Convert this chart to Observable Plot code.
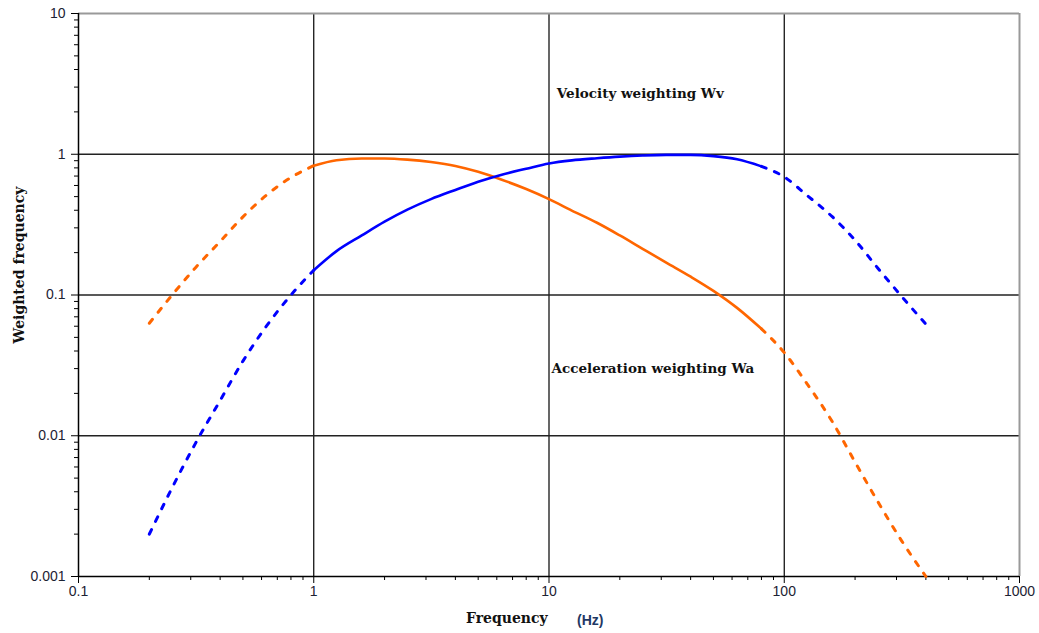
<!DOCTYPE html>
<html>
<head>
<meta charset="utf-8">
<script src="https://cdn.jsdelivr.net/npm/d3@7"></script>
<script src="https://cdn.jsdelivr.net/npm/@observablehq/plot@0.6"></script>
<style>
  html, body { margin: 0; padding: 0; background: #fff; }
  #chart { position: relative; width: 1039px; height: 633px; }
  .ytitle { position: absolute; left: 19px; top: 265px; transform: translate(-50%, -50%) rotate(-90deg);
    font: bold 14px "DejaVu Serif", serif; color: #111; white-space: nowrap; }
  .xtitle { position: absolute; left: 466px; top: 610px; font: bold 14px "DejaVu Serif", serif; color: #111; white-space: nowrap; }
  .xunit { position: absolute; left: 577px; top: 612px; font: bold 14px "Liberation Sans", Arial, sans-serif; color: #1F3864; white-space: nowrap; }
</style>
</head>
<body>
<div id="chart"></div>
<script>
// Frequencies (Hz), 1/3-octave bands
const freq = [0.2, 0.25, 0.315, 0.4, 0.5, 0.63, 0.8, 1, 1.25, 1.6, 2, 2.5, 3.15, 4, 5, 6.3, 8, 10,
  12.5, 16, 20, 25, 31.5, 40, 50, 63, 80, 100, 125, 160, 200, 250, 315, 400];
// Acceleration weighting Wa
const accel = [0.063, 0.1, 0.157, 0.24, 0.359, 0.513, 0.684, 0.83, 0.906, 0.933, 0.933, 0.916, 0.881, 0.826,
  0.75, 0.659, 0.566, 0.48, 0.398, 0.326, 0.265, 0.213, 0.17, 0.135, 0.107, 0.081, 0.0575,
  0.039, 0.0234, 0.0126, 0.0065, 0.0034, 0.0018, 0.001];
// Velocity weighting Wv
const veloc = [0.002, 0.00427, 0.0089, 0.0178, 0.0339, 0.0603, 0.1, 0.15, 0.205, 0.265, 0.332, 0.404, 0.48, 0.558,
  0.638, 0.716, 0.789, 0.86, 0.905, 0.937, 0.962, 0.98, 0.99, 0.99, 0.97, 0.92, 0.82,
  0.69, 0.51, 0.36, 0.245, 0.155, 0.098, 0.062];
// Solid range; outside it the curves are dashed
const solidMin = 1, solidMax = 80;

const xTicks = [0.1, 1, 10, 100, 1000];
const yTicks = [0.001, 0.01, 0.1, 1, 10];
const annotations = ["Velocity weighting Wv", "Acceleration weighting Wa"];
const annX = [10.8, 10.25];
const annY = [2.68, 0.0298];

const series = [
  {name: "Wa", color: "#FF6600", vals: accel},
  {name: "Wv", color: "#0000FF", vals: veloc}
];
const rows = [];
for (const s of series) {
  freq.forEach((f, i) => {
    const v = s.vals[i];
    if (f <= solidMin) rows.push({f, v, seg: s.name + "-lo", color: s.color, dashed: true});
    if (f >= solidMin && f <= solidMax) rows.push({f, v, seg: s.name + "-mid", color: s.color, dashed: false});
    if (f >= solidMax) rows.push({f, v, seg: s.name + "-hi", color: s.color, dashed: true});
  });
}
const minorX = [], minorY = [];
for (let e = -1; e < 3; e++) for (let k = 2; k <= 9; k++) minorX.push(k * Math.pow(10, e));
for (let e = -3; e < 1; e++) for (let k = 2; k <= 9; k++) minorY.push(k * Math.pow(10, e));
const ann = annotations.map((t, i) => ({t, x: annX[i], y: annY[i]}));
const fmt = d => String(d);

const plot = Plot.plot({
  width: 1039,
  height: 633,
  marginLeft: 78,
  marginRight: 20,
  marginTop: 13,
  marginBottom: 57,
  style: {fontFamily: "'Liberation Sans', Arial, sans-serif", fontSize: "14px", background: "#fff", color: "#1c2233"},
  x: {type: "log", domain: [0.1, 1000]},
  y: {type: "log", domain: [0.001, 10]},
  marks: [
    Plot.ruleX(xTicks.slice(1, -1), {stroke: "#000", strokeWidth: 1.2}),
    Plot.ruleY(yTicks.slice(1, -1), {stroke: "#222", strokeWidth: 1.4}),
    Plot.ruleX([1000], {stroke: "#999", strokeWidth: 2}),
    Plot.ruleY([10], {stroke: "#999", strokeWidth: 2}),
    Plot.ruleX([0.1], {stroke: "#000", strokeWidth: 1.5}),
    Plot.ruleY([0.001], {stroke: "#000", strokeWidth: 1.5}),
    Plot.axisX({ticks: minorX, tickSize: 4, tickFormat: () => "", stroke: "#000"}),
    Plot.axisY({ticks: minorY, tickSize: 4, tickFormat: () => "", stroke: "#000"}),
    Plot.axisX({ticks: xTicks, tickSize: 7, tickPadding: 3, tickFormat: fmt, label: null, stroke: "#000", fill: "#1c2233", fontSize: 14}),
    Plot.axisY({ticks: yTicks, tickSize: 7, tickPadding: 6, tickFormat: fmt, label: null, stroke: "#000", fill: "#1c2233", fontSize: 14}),
    Plot.line(rows.filter(d => !d.dashed), {x: "f", y: "v", z: "seg", stroke: "color", strokeWidth: 2.6, curve: "monotone-x"}),
    Plot.line(rows.filter(d => d.dashed), {x: "f", y: "v", z: "seg", stroke: "color", strokeWidth: 3, strokeDasharray: "5,9", curve: "monotone-x"}),
    Plot.text(ann, {x: "x", y: "y", text: "t", textAnchor: "start", fontFamily: "'DejaVu Serif', serif", fontWeight: "bold", fontSize: 13.5, fill: "#111"})
  ]
});
const chart = document.getElementById("chart");
chart.appendChild(plot);
const yt = document.createElement("div"); yt.className = "ytitle"; yt.textContent = "Weighted frequency"; chart.appendChild(yt);
const xt = document.createElement("div"); xt.className = "xtitle"; xt.textContent = "Frequency"; chart.appendChild(xt);
const xu = document.createElement("div"); xu.className = "xunit"; xu.textContent = "(Hz)"; chart.appendChild(xu);
</script>
</body>
</html>
